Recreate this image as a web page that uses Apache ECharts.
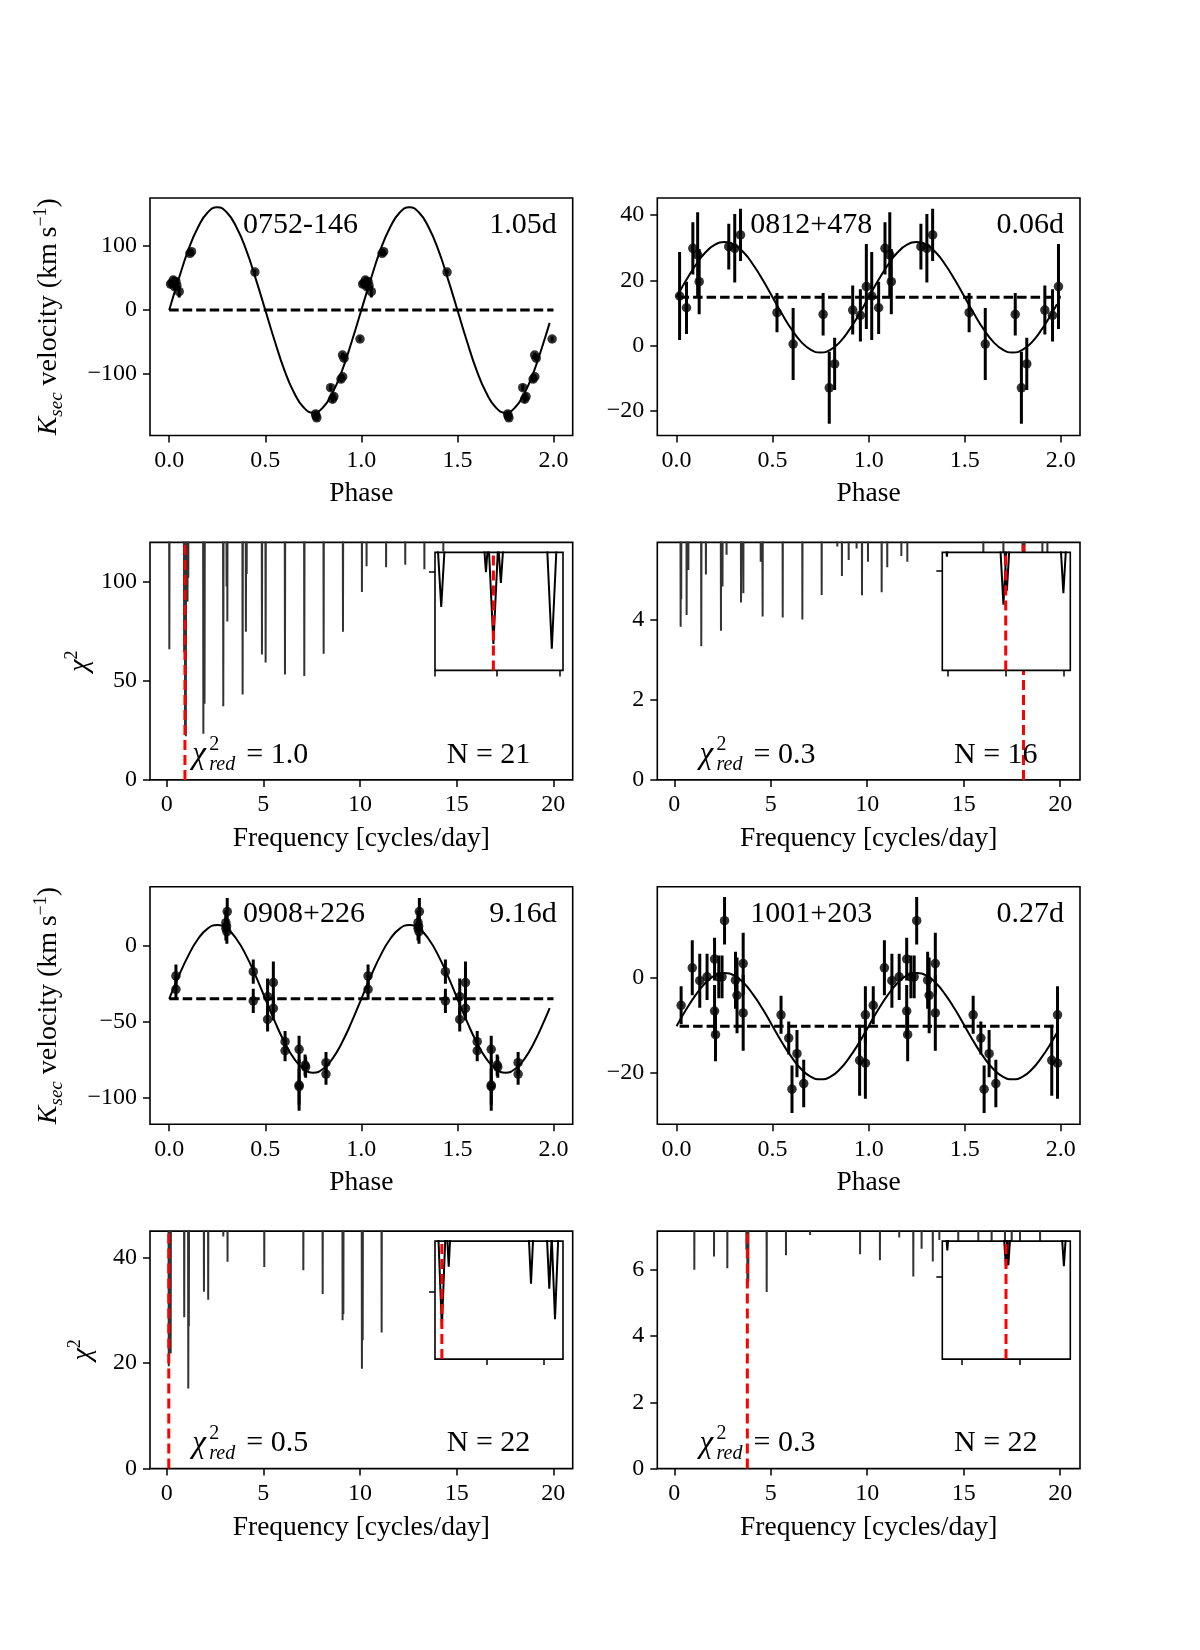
<!DOCTYPE html>
<html>
<head>
<meta charset="utf-8">
<style>
  html, body { margin: 0; padding: 0; background: #fff; }
  #chart { width: 1200px; height: 1650px; }
</style>
<script src="https://cdn.jsdelivr.net/npm/echarts@6/dist/echarts.min.js"></script>
</head>
<body>
<div id="chart"></div>
<script>
// ---- tick values ----
const phaseTicks = [0, 0.5, 1, 1.5, 2];
const freqTicks = [0, 5, 10, 15, 20];

// ---- fitted curves, read at these phases ----
const curvePhase = [0, 0.05, 0.1, 0.15, 0.2, 0.25, 0.3, 0.35, 0.4, 0.45, 0.5, 0.55, 0.6, 0.65, 0.7, 0.75, 0.8, 0.85, 0.9, 0.95,
  1, 1.05, 1.1, 1.15, 1.2, 1.25, 1.3, 1.35, 1.4, 1.45, 1.5, 1.55, 1.6, 1.65, 1.7, 1.75, 1.8, 1.85, 1.9, 1.95, 1.98];

// 0752-146
const rvAName = '0752-146';
const rvAPeriod = '1.05d';
const rvAPhase = [0.007, 0.014, 0.021, 0.028, 0.035, 0.040, 0.052, 0.108, 0.116, 0.446, 0.762, 0.764, 0.768, 0.840, 0.850, 0.857, 0.894, 0.903, 0.902, 0.910, 0.993];
const rvAVel = [40.5, 42, 46.8, 36.4, 44.2, 38, 28.6, 88.3, 90.9, 59.2, -162, -165.2, -168, -121, -139, -135, -107.6, -104, -70.1, -75, -45.2];
const rvAErr = [5, 5, 5, 5, 6, 5, 9, 4, 4, 4, 5, 6, 5, 5, 5, 5, 5, 4, 4, 5, 4];
const rvAModel = [0, 49, 94, 129, 152, 160, 152, 129, 94, 49, 0, -49, -94, -129, -152, -160, -152, -129, -94, -49,
  0, 49, 94, 129, 152, 160, 152, 129, 94, 49, 0, -49, -94, -129, -152, -160, -152, -129, -94, -49, -20];
const rvAGamma = 0;
const rvAGammaSpan = [0, 2];
const rvAYTicks = [-100, 0, 100];

// 0812+478
const rvBName = '0812+478';
const rvBPeriod = '0.06d';
const rvBPhase = [0.016, 0.052, 0.085, 0.110, 0.118, 0.272, 0.303, 0.333, 0.523, 0.607, 0.763, 0.795, 0.823, 0.917, 0.957, 0.988];
const rvBVel = [15.2, 11.6, 29.8, 27.8, 19.6, 30.3, 29.8, 33.9, 10.1, 0.5, 9.6, -12.9, -5.6, 10.9, 9.3, 18.1];
const rvBErr = [13.5, 8, 8, 13, 10, 7, 10.5, 8, 6, 11, 6.5, 11, 8, 7.5, 8, 13];
const rvBModel = [14.8, 20.0, 24.7, 28.5, 30.9, 31.7, 30.9, 28.5, 24.7, 20.0, 14.8, 9.6, 4.9, 1.1, -1.3, -2.1, -1.3, 1.1, 4.9, 9.6,
  14.8, 20.0, 24.7, 28.5, 30.9, 31.7, 30.9, 28.5, 24.7, 20.0, 14.8, 9.6, 4.9, 1.1, -1.3, -2.1, -1.3, 1.1, 4.9, 9.6, 12.7];
const rvBGamma = 14.8;
const rvBGammaSpan = [0.016, 2.0];
const rvBYTicks = [-20, 0, 20, 40];

// 0908+226
const rvCName = '0908+226';
const rvCPeriod = '9.16d';
const rvCPhase = [0.035, 0.035, 0.295, 0.295, 0.300, 0.302, 0.298, 0.4375, 0.4375, 0.512, 0.512, 0.542, 0.542, 0.603, 0.603, 0.676, 0.676, 0.676, 0.707, 0.710, 0.816, 0.816];
const rvCVel = [-19.8, -28.6, 15.4, 11.7, 9.5, 22.7, 13, -17, -36.3, -33.5, -48.5, -24.2, -41.2, -63.2, -69.2, -68.3, -91.9, -92.9, -78.7, -80, -77.1, -84.6];
const rvCErr = [7.5, 7, 8, 8, 8, 9, 8, 8, 8, 12, 8, 14, 8, 7, 7, 9, 17, 12, 7, 7, 7, 7];
const rvCModel = [-34.9, -19.8, -6.2, 4.6, 11.5, 13.9, 11.5, 4.6, -6.2, -19.8, -34.9, -50.0, -63.6, -74.4, -81.3, -83.7, -81.3, -74.4, -63.6, -50.0,
  -34.9, -19.8, -6.2, 4.6, 11.5, 13.9, 11.5, 4.6, -6.2, -19.8, -34.9, -50.0, -63.6, -74.4, -81.3, -83.7, -81.3, -74.4, -63.6, -50.0, -41.0];
const rvCGamma = -34.9;
const rvCGammaSpan = [0, 2];
const rvCYTicks = [-100, -50, 0];

// 1001+203
const rvDName = '1001+203';
const rvDPeriod = '0.27d';
const rvDPhase = [0.024, 0.082, 0.121, 0.159, 0.198, 0.198, 0.203, 0.220, 0.237, 0.250, 0.307, 0.315, 0.347, 0.347, 0.544, 0.584, 0.601, 0.627, 0.662, 0.953, 0.983, 0.983];
const rvDVel = [-5.8, 2.1, -0.6, 0.2, 3.95, -7.0, -12.0, 0.2, 0.2, 12.05, -0.5, -3.7, 3.0, -7.4, -7.8, -12.7, -23.5, -16.0, -22.3, -17.4, -18.0, -7.8];
const rvDErr = [4, 5.8, 5.7, 4.9, 4.5, 5.5, 5.6, 4.5, 4.5, 5, 6, 8, 6.5, 8, 4, 3.5, 5, 5, 5, 7.5, 7.5, 6];
const rvDModel = [-10.2, -6.7, -3.6, -1.1, 0.5, 1.0, 0.5, -1.1, -3.6, -6.7, -10.2, -13.7, -16.8, -19.3, -20.9, -21.4, -20.9, -19.3, -16.8, -13.7,
  -10.2, -6.7, -3.6, -1.1, 0.5, 1.0, 0.5, -1.1, -3.6, -6.7, -10.2, -13.7, -16.8, -19.3, -20.9, -21.4, -20.9, -19.3, -16.8, -13.7, -11.6];
const rvDGamma = -10.2;
const rvDGammaSpan = [0.016, 1.99];
const rvDYTicks = [-20, 0];

// periodograms: chi^2 minima (frequency, depth)
const pgAFreq = [0.14, 0.905, 0.941, 0.947, 0.953, 0.994, 1.08, 1.12, 1.90, 1.96, 2.93, 3.10, 3.14, 3.93, 4.10, 4.14, 4.93, 5.12, 6.12, 7.12, 8.12, 9.12, 10.10, 10.34, 11.35, 12.34, 13.33, 14.31];
const pgAChi = [66, 64.5, 100, 27, 89, 22, 90, 102, 23.3, 38.5, 37.2, 97.6, 80, 43.1, 74.8, 104, 63.3, 59.3, 53.2, 52.4, 63.7, 74.8, 94.8, 107.8, 107.4, 108.6, 106.4, 115.4];
const pgABest = 0.947;
const pgAChiRed = '1.0';
const pgAN = 21;
const pgAYTicks = [0, 50, 100];

const pgBFreq = [0.33, 0.36, 0.64, 0.73, 1.40, 1.64, 2.42, 2.50, 2.71, 3.46, 3.58, 4.48, 4.58, 5.62, 6.64, 7.64, 8.45, 8.69, 9.04, 9.45, 9.73, 10.04, 10.75, 11.04, 11.77, 12.08, 16.02, 17.06, 18.049, 18.098, 18.101, 18.150, 19.08, 19.34];
const pgBChi = [3.82, 4.5, 4.11, 5.23, 3.33, 5.12, 3.72, 4.82, 5.61, 4.42, 4.65, 5.44, 4.07, 4.05, 4.0, 4.61, 5.82, 5.08, 5.48, 5.77, 4.6, 5.44, 4.68, 5.30, 5.58, 5.44, 5.4, 5.2, 5.70, 3.3, 4.0, 3.87, 5.6, 5.5];
const pgBBest = 18.1;
const pgBChiRed = '0.3';
const pgBN = 16;
const pgBYTicks = [0, 2, 4];

const pgCFreq = [0.111, 0.117, 0.189, 0.205, 0.210, 0.91, 1.12, 1.15, 1.93, 2.15, 2.93, 3.15, 5.05, 7.07, 8.07, 9.10, 9.14, 10.10, 10.14, 11.12];
const pgCChi = [19.4, 37.4, 32.4, 30.9, 21.8, 28.7, 15.2, 27, 33.5, 32.0, 44, 39.2, 38.2, 37.6, 33.1, 28.1, 29.3, 18.9, 24.3, 25.8];
const pgCBest = 0.111;
const pgCChiRed = '0.5';
const pgCN = 22;
const pgCYTicks = [0, 20, 40];

const pgDFreq = [1.04, 2.06, 2.75, 3.7378, 3.788, 3.790, 3.8375, 4.79, 5.79, 7.04, 9.63, 10.66, 11.66, 12.39, 12.82, 13.40, 13.74, 14.72, 15.76, 16.45, 17.14, 17.49, 17.92, 18.96];
const pgDChi = [6.0, 6.4, 6.05, 6.61, 5.5, 5.7, 5.64, 5.33, 6.44, 7.05, 6.47, 6.29, 6.98, 5.80, 6.64, 6.25, 6.9, 6.5, 6.6, 6.5, 6.6, 6.4, 6.7, 6.6];
const pgDBest = 3.788;
const pgDChiRed = '0.3';
const pgDN = 22;
const pgDYTicks = [0, 2, 4, 6];

// zoomed insets around each best frequency
const insetAX = [0.9, 1.003];
const insetAY = [0, 120];
const insetAXTicks = [0.9, 0.95, 1.0];
const insetAYTicks = [100];
const insetBX = [18.045, 18.156];
const insetBY = [0, 5.92];
const insetBXTicks = [18.05, 18.1, 18.15];
const insetBYTicks = [5];
const insetCX = [0.105, 0.217];
const insetCY = [10, 45];
const insetCXTicks = [0.15, 0.2];
const insetCYTicks = [30];
const insetDX = [3.7335, 3.843];
const insetDY = [0, 7.17];
const insetDXTicks = [3.75, 3.8];
const insetDYTicks = [5];

// ---- layout ----
const FONT = "'Liberation Serif', 'DejaVu Serif', serif";
const COL_LEFT = [150, 657.3];
const ROW_TOP = [198, 542.4, 886.8, 1231.1];
const AX_W = 422.7;
const AX_H = 237.5;

const chart = echarts.init(document.getElementById('chart'));

const grids = [];
const xAxes = [];
const yAxes = [];
const series = [];
const texts = [];

function signed(v) {
  return v < 0 ? '\u2212' + Math.abs(v) : String(v);
}

function addGrid(left, top, width, height, z, bg) {
  grids.push({
    left, top, width, height, z,
    show: true,
    backgroundColor: bg,
    borderColor: '#000',
    borderWidth: 1.6,
    outerBoundsMode: 'none'
  });
  return grids.length - 1;
}

function axis(gi, min, max, ticks, fmt, extra) {
  return Object.assign({
    type: 'value',
    gridIndex: gi,
    min, max,
    splitLine: { show: false },
    axisLine: { show: false, onZero: false },
    axisTick: { show: true, length: 7, customValues: ticks, lineStyle: { color: '#000', width: 1.5 } },
    axisLabel: { show: true, customValues: ticks, formatter: fmt, color: '#000', fontFamily: FONT, fontSize: 24, margin: 13 }
  }, extra);
}

function insetAxis(gi, range, ticks) {
  return {
    type: 'value',
    gridIndex: gi,
    min: range[0], max: range[1],
    z: 11,
    splitLine: { show: false },
    axisLine: { show: false, onZero: false },
    axisTick: { show: true, length: 6, customValues: ticks, lineStyle: { color: '#000', width: 1.5 } },
    axisLabel: { show: false }
  };
}

const xNameStyle = { fontFamily: FONT, fontSize: 27.5, color: '#000' };

function dipLine(freqs, chis, halfWidth, top) {
  const pts = [];
  freqs.forEach((f, i) => {
    pts.push([f - halfWidth, top], [f, chis[i]], [f + halfWidth, top]);
  });
  return pts;
}

function addText(x, y, text, size, opts) {
  texts.push({
    type: 'text', x, y, z: 50,
    style: Object.assign({ text, fontSize: size, fontFamily: FONT, fill: '#000', align: 'left', verticalAlign: 'middle' }, opts)
  });
}

function addRvPanel(col, row, p) {
  const left = COL_LEFT[col];
  const top = ROW_TOP[row];
  const gi = addGrid(left, top, AX_W, AX_H, 0, 'transparent');
  xAxes.push(axis(gi, -0.1, 2.1, phaseTicks, (v) => v.toFixed(1), {
    name: 'Phase', nameLocation: 'middle', nameGap: 44, nameTextStyle: xNameStyle
  }));
  const yName = col === 0 ? {
    name: '{k|K}{s|sec} velocity (km\u2009s{p|\u22121})',
    nameLocation: 'middle',
    nameGap: 84,
    nameRotate: 90,
    nameTextStyle: {
      fontFamily: FONT, fontSize: 28, color: '#000', lineHeight: 34,
      rich: {
        k: { fontFamily: FONT, fontSize: 28, fontStyle: 'italic', color: '#000', lineHeight: 34 },
        s: { fontFamily: FONT, fontSize: 19, fontStyle: 'italic', color: '#000', lineHeight: 19, verticalAlign: 'bottom' },
        p: { fontFamily: FONT, fontSize: 18, color: '#000', lineHeight: 18, verticalAlign: 'top' }
      }
    }
  } : {};
  yAxes.push(axis(gi, p.yRange[0], p.yRange[1], p.yTicks, signed, yName));

  series.push({
    type: 'line', xAxisIndex: gi, yAxisIndex: gi,
    data: curvePhase.map((ph, i) => [ph, p.model[i]]),
    smooth: true, symbol: 'none', z: 3,
    lineStyle: { color: '#000', width: 2 }
  });
  series.push({
    type: 'line', xAxisIndex: gi, yAxisIndex: gi,
    data: [[p.gammaSpan[0], p.gamma], [p.gammaSpan[1], p.gamma]],
    symbol: 'none', z: 3,
    lineStyle: { color: '#000', width: 3, type: [9.5, 4] }
  });

  const pts = [];
  [0, 1].forEach((k) => {
    p.phase.forEach((ph, i) => pts.push([ph + k, p.vel[i], p.err[i]]));
  });
  series.push({
    type: 'custom', xAxisIndex: gi, yAxisIndex: gi,
    data: pts, encode: { x: 0, y: 1 }, z: 4, clip: true,
    renderItem(params, api) {
      const x = api.value(0);
      const y = api.value(1);
      const e = api.value(2);
      const a = api.coord([x, y - e]);
      const b = api.coord([x, y + e]);
      return {
        type: 'line',
        shape: { x1: a[0], y1: a[1], x2: b[0], y2: b[1] },
        style: { stroke: '#000', lineWidth: 3 }
      };
    }
  });
  series.push({
    type: 'scatter', xAxisIndex: gi, yAxisIndex: gi,
    data: pts.map((d) => [d[0], d[1]]),
    symbol: 'circle', symbolSize: 9.5, z: 5,
    itemStyle: { color: '#000' }
  });

  addText(left + 0.22 * AX_W, top + 27, p.name, 30);
  addText(left + 0.962 * AX_W, top + 27, p.period, 30, { align: 'right' });
}

function addPgPanel(col, row, p) {
  const left = COL_LEFT[col];
  const top = ROW_TOP[row];
  const bottom = top + AX_H;
  const gi = addGrid(left, top, AX_W, AX_H, 0, 'transparent');
  xAxes.push(axis(gi, p.xRange[0], p.xRange[1], freqTicks, (v) => String(v), {
    name: 'Frequency [cycles/day]', nameLocation: 'middle', nameGap: 45, nameTextStyle: xNameStyle
  }));
  const yName = col === 0 ? {
    name: '{c|\u03c7}{p|2}',
    nameLocation: 'middle',
    nameGap: 50,
    nameRotate: 90,
    nameTextStyle: {
      fontFamily: FONT, fontSize: 28, color: '#000', lineHeight: 34,
      rich: {
        c: { fontFamily: FONT, fontSize: 28, fontStyle: 'italic', color: '#000', lineHeight: 34 },
        p: { fontFamily: FONT, fontSize: 18, color: '#000', lineHeight: 18, verticalAlign: 'top' }
      }
    }
  } : {};
  yAxes.push(axis(gi, 0, p.yMax, p.yTicks, (v) => String(v), yName));

  series.push({
    type: 'line', xAxisIndex: gi, yAxisIndex: gi,
    data: dipLine(p.freq, p.chi, 0.03, p.yMax * 2),
    symbol: 'none', z: 2, clip: true,
    lineStyle: { color: '#333', width: 2 }
  });
  series.push({
    type: 'line', xAxisIndex: gi, yAxisIndex: gi,
    data: [[p.best, 0], [p.best, p.yMax]],
    symbol: 'none', z: 3,
    lineStyle: { color: '#ff0000', width: 3, type: [10, 5] }
  });

  // inset
  const ii = addGrid(left + 285, top + 10, 128, 118, 10, '#fff');
  xAxes.push(insetAxis(ii, p.inX, p.inXTicks));
  yAxes.push(insetAxis(ii, p.inY, p.inYTicks));
  series.push({
    type: 'line', xAxisIndex: ii, yAxisIndex: ii,
    data: dipLine(p.freq, p.chi, 0.008, p.inY[1] * 2),
    symbol: 'none', z: 12, clip: true,
    lineStyle: { color: '#000', width: 2 }
  });
  series.push({
    type: 'line', xAxisIndex: ii, yAxisIndex: ii,
    data: [[p.best, p.inY[0]], [p.best, p.inY[1]]],
    symbol: 'none', z: 13,
    lineStyle: { color: '#ff0000', width: 3, type: [10, 5] }
  });

  const x0 = left + 0.1 * AX_W;
  addText(x0, bottom - 25, '\u03c7', 31, { fontStyle: 'italic' });
  addText(x0 + 17, bottom - 35, '2', 20);
  addText(x0 + 17, bottom - 15, 'red', 20, { fontStyle: 'italic' });
  addText(x0 + 54, bottom - 25, '= ' + p.chiRed, 30);
  addText(left + 0.702 * AX_W, bottom - 25, 'N = ' + p.n, 30);
}

addRvPanel(0, 0, { name: rvAName, period: rvAPeriod, phase: rvAPhase, vel: rvAVel, err: rvAErr, model: rvAModel,
  gamma: rvAGamma, gammaSpan: rvAGammaSpan, yTicks: rvAYTicks, yRange: [-195.6, 174.6] });
addRvPanel(1, 0, { name: rvBName, period: rvBPeriod, phase: rvBPhase, vel: rvBVel, err: rvBErr, model: rvBModel,
  gamma: rvBGamma, gammaSpan: rvBGammaSpan, yTicks: rvBYTicks, yRange: [-27.5, 45.2] });
addPgPanel(0, 1, { freq: pgAFreq, chi: pgAChi, best: pgABest, chiRed: pgAChiRed, n: pgAN, yTicks: pgAYTicks,
  yMax: 119.9, xRange: [-0.86, 21.0], inX: insetAX, inY: insetAY, inXTicks: insetAXTicks, inYTicks: insetAYTicks });
addPgPanel(1, 1, { freq: pgBFreq, chi: pgBChi, best: pgBBest, chiRed: pgBChiRed, n: pgBN, yTicks: pgBYTicks,
  yMax: 5.92, xRange: [-0.88, 21.03], inX: insetBX, inY: insetBY, inXTicks: insetBXTicks, inYTicks: insetBYTicks });
addRvPanel(0, 2, { name: rvCName, period: rvCPeriod, phase: rvCPhase, vel: rvCVel, err: rvCErr, model: rvCModel,
  gamma: rvCGamma, gammaSpan: rvCGammaSpan, yTicks: rvCYTicks, yRange: [-117.8, 39.1] });
addRvPanel(1, 2, { name: rvDName, period: rvDPeriod, phase: rvDPhase, vel: rvDVel, err: rvDErr, model: rvDModel,
  gamma: rvDGamma, gammaSpan: rvDGammaSpan, yTicks: rvDYTicks, yRange: [-30.9, 19.2] });
addPgPanel(0, 3, { freq: pgCFreq, chi: pgCChi, best: pgCBest, chiRed: pgCChiRed, n: pgCN, yTicks: pgCYTicks,
  yMax: 45, xRange: [-0.86, 21.0], inX: insetCX, inY: insetCY, inXTicks: insetCXTicks, inYTicks: insetCYTicks });
addPgPanel(1, 3, { freq: pgDFreq, chi: pgDChi, best: pgDBest, chiRed: pgDChiRed, n: pgDN, yTicks: pgDYTicks,
  yMax: 7.17, xRange: [-0.88, 21.03], inX: insetDX, inY: insetDY, inXTicks: insetDXTicks, inYTicks: insetDYTicks });

chart.setOption({
  animation: false,
  backgroundColor: '#fff',
  grid: grids,
  xAxis: xAxes,
  yAxis: yAxes,
  series,
  graphic: { elements: texts }
});

window.addEventListener('resize', () => {
  chart.resize();
});
</script>
</body>
</html>
